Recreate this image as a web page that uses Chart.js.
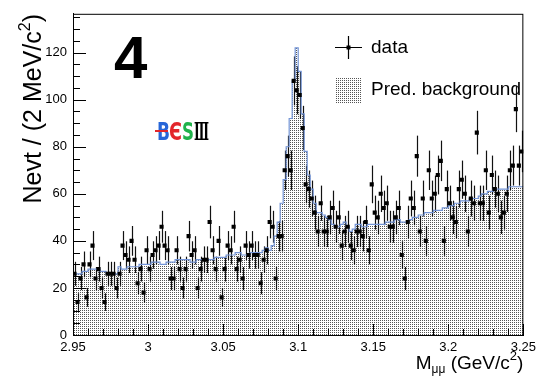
<!DOCTYPE html>
<html><head><meta charset="utf-8">
<script src="https://cdn.jsdelivr.net/npm/chart.js@4/dist/chart.umd.min.js"></script>
<style>html,body{margin:0;padding:0;background:#fff;}#wrap{width:541px;height:376px;position:relative}</style>
</head><body><div id="wrap"><canvas id="c" width="541" height="376"></canvas></div>
<script>
// ---- data (2 MeV bins from 2.95 to 3.25 GeV) ----
const xMin = 2.95, xMax = 3.25, binWidth = 0.002;
const dataCounts = [26,14,24,30,16,30,38,24,28,20, 14,26,26,26,20,26,38,34,32,40, 32,22,28,18,36,28,34,36,38,46,
  38,36,24,24,36,28,20,28,42,34, 36,20,28,32,32,48,36,28,40,16, 28,38,36,46,28,32,24,38,34,38,
  34,34,22,32,36,48,46,24,42,42, 70,76,70,108,104,102,88,64,62,58, 52,44,56,44,44,50,54,46,50,38,
  44,46,38,36,44,44,42,48,36,64, 52,50,60,54,56,46,46,50,54,34, 24,48,58,54,76,44,58,40,70,58,
  60,68,74,40,62,56,50,48,62,66, 60,44,58,56,86,56,56,70,52,68, 62,60,50,52,60,70,72,96,72,78];
const bkgCounts = [26,26,26,27,27,28,28,28,28,27, 27,26,26,26,26,29,28,28,29,29, 29,29,30,30,30,30,31,31,31,30,
  30,31,31,31,32,32,32,32,32,31, 31,32,32,32,32,32,32,33,33,33, 33,34,34,34,35,35,34,34,34,35,
  35,35,35,36,37,36,38,42,48,56, 66,80,92,108,122,112,94,78,68,62, 56,52,52,51,50,49,47,46,46,47,
  48,46,44,45,47,47,46,46,47,47, 47,47,47,47,48,48,48,49,49,48, 48,48,49,50,50,51,51,52,52,52,
  53,53,53,54,54,55,55,56,56,57, 57,57,58,58,58,59,60,60,61,61, 62,62,62,62,62,63,63,63,63,63];
const xTickValues = [2.95, 3.0, 3.05, 3.1, 3.15, 3.2, 3.25];
const xTickLabels = ['2.95', '3', '3.05', '3.1', '3.15', '3.2', '3.25'];
const yTickValues = [0, 20, 40, 60, 80, 100, 120];
const yTickLabels = ['0', '20', '40', '60', '80', '100', '120'];
const yMax = 136.5;

const binLow = dataCounts.map((_, i) => +(xMin + i * binWidth).toFixed(4));
const binCenter = binLow.map(v => +(v + binWidth / 2).toFixed(4));

const dataPts = dataCounts.map((v, i) => ({x: binCenter[i], y: v}));
const bkgPts = bkgCounts.map((v, i) => ({x: binLow[i], y: v}));
bkgPts.push({x: xMax, y: bkgCounts[bkgCounts.length - 1]});

// dotted fill pattern
function makePattern() {
  const p = document.createElement('canvas');
  p.width = 2; p.height = 2;
  const g = p.getContext('2d');
  g.fillStyle = '#ffffff'; g.fillRect(0, 0, 2, 2);
  g.fillStyle = '#555555'; g.fillRect(0, 0, 1, 1);
  return g.createPattern(p, 'repeat');
}
const ctx0 = document.getElementById('c').getContext('2d');
const pattern = makePattern();

const FONT = '"Liberation Sans", Arial, Helvetica, sans-serif';

function richWidth(ctx, parts) {
  let w = 0;
  parts.forEach(p => { ctx.font = p.font; w += ctx.measureText(p.t).width; });
  return w;
}
function drawRich(ctx, parts, x, y) {
  parts.forEach(p => {
    ctx.font = p.font;
    ctx.fillText(p.t, x, y + (p.dy || 0));
    x += ctx.measureText(p.t).width;
  });
}

const errorBars = {
  id: 'errorBars',
  beforeDatasetDraw(chart, args) {
    if (args.index !== 1) return;
    const c = chart.ctx, xs = chart.scales.x, ys = chart.scales.y;
    c.save();
    c.strokeStyle = '#111'; c.lineWidth = 1.2;
    dataPts.forEach(p => {
      const e = Math.sqrt(p.y);
      const px = Math.round(xs.getPixelForValue(p.x)) + 0.5;
      c.beginPath();
      c.moveTo(px, ys.getPixelForValue(p.y - e));
      c.lineTo(px, ys.getPixelForValue(p.y + e));
      c.stroke();
    });
    c.restore();
  }
};

const decor = {
  id: 'decor',
  afterDraw(chart) {
    const c = chart.ctx, a = chart.chartArea, xs = chart.scales.x, ys = chart.scales.y;
    c.save();
    // frame
    c.strokeStyle = '#000'; c.lineWidth = 1;
    c.strokeRect(a.left + 0.5, a.top + 0.5, a.right - a.left - 1, a.bottom - a.top);
    // x ticks (inside)
    c.beginPath();
    for (let i = 0; i <= 30; i++) {
      const v = xMin + i * 0.01;
      const px = Math.round(xs.getPixelForValue(v)) + 0.5;
      const len = (i % 5 === 0) ? 11 : 6;
      c.moveTo(px, a.bottom); c.lineTo(px, a.bottom - len);
    }
    // y ticks (inside)
    for (let v = 0; v <= yMax; v += 5) {
      const py = Math.round(ys.getPixelForValue(v)) + 0.5;
      const len = (v % 20 === 0) ? 13 : 7;
      c.moveTo(a.left, py); c.lineTo(a.left + len, py);
    }
    c.stroke();

    c.fillStyle = '#000';
    c.textBaseline = 'alphabetic';
    // big "4"
    c.font = 'bold 60px ' + FONT;
    c.textAlign = 'left';
    c.fillText('4', 114, 78);

    // BESIII logo
    c.font = 'bold 25px "DejaVu Sans", sans-serif';
    c.fillStyle = '#2766d8'; c.fillText('B', 157, 140, 13);
    c.fillStyle = '#e3262b'; c.fillText('Є', 169, 140, 13);
    c.fillStyle = '#21b24b'; c.fillText('S', 182, 140, 12);
    c.fillStyle = '#000'; c.font = 'bold 25px "DejaVu Serif", serif';
    c.fillText('Ⅲ', 194, 140, 15);
    c.strokeStyle = '#e3262b'; c.lineWidth = 2;
    c.beginPath(); c.moveTo(155, 131); c.lineTo(168, 131); c.stroke();

    // legend
    c.strokeStyle = '#000'; c.lineWidth = 1.2;
    c.beginPath();
    c.moveTo(335, 47.5); c.lineTo(362, 47.5);
    c.moveTo(348.5, 36); c.lineTo(348.5, 59);
    c.stroke();
    c.fillStyle = '#000'; c.fillRect(346.5, 45.5, 4, 4);
    c.fillStyle = pattern; c.fillRect(335, 77, 27, 26);
    c.fillStyle = '#000';
    c.font = '19px ' + FONT;
    c.textBaseline = 'middle';
    c.fillText('data', 371, 48);
    c.fillText('Pred. background', 371, 90);

    // x title (right aligned)
    c.textBaseline = 'alphabetic';
    const xt = [
      {t: 'M', font: '19px ' + FONT},
      {t: 'μμ', font: '12px ' + FONT, dy: 4},
      {t: ' (GeV/c', font: '19px ' + FONT},
      {t: '2', font: '13px ' + FONT, dy: -9},
      {t: ')', font: '19px ' + FONT}
    ];
    const xw = richWidth(c, xt);
    drawRich(c, xt, a.right - xw, 369);

    // y title (rotated, right aligned at top)
    const yt = [
      {t: 'Nevt / (2 MeV/c', font: '25px ' + FONT},
      {t: '2', font: '16px ' + FONT, dy: -11},
      {t: ')', font: '25px ' + FONT}
    ];
    const yw = richWidth(c, yt);
    c.translate(41, 14);
    c.rotate(-Math.PI / 2);
    drawRich(c, yt, -yw, 0);
    c.restore();
  }
};

new Chart(document.getElementById('c'), {
  data: {
    datasets: [
      {
        type: 'scatter', label: 'data', data: dataPts, order: 1,
        pointStyle: 'rect', pointRadius: 2.9, pointBackgroundColor: '#000',
        pointBorderWidth: 0, showLine: false
      },
      {
        type: 'line', label: 'Pred. background', data: bkgPts, order: 2,
        stepped: 'before', fill: 'origin', backgroundColor: pattern,
        borderColor: '#7394d6', borderWidth: 1.2, pointRadius: 0, tension: 0
      }
    ]
  },
  options: {
    responsive: false, animation: false, devicePixelRatio: 1,
    layout: {padding: {top: 9, right: 14, left: 0, bottom: 0}},
    plugins: {legend: {display: false}, tooltip: {enabled: false}},
    scales: {
      x: {
        type: 'linear', min: xMin, max: xMax,
        afterBuildTicks: s => { s.ticks = xTickValues.map(v => ({value: v})); },
        afterFit: s => { s.height = 41; },
        grid: {display: false, drawTicks: false},
        border: {display: true, color: '#000', width: 1},
        ticks: {
          padding: 5, color: '#000', font: {family: FONT, size: 13},
          maxRotation: 0, autoSkip: false,
          callback: (v, i) => xTickLabels[i]
        }
      },
      y: {
        type: 'linear', min: 0, max: yMax,
        afterBuildTicks: s => { s.ticks = yTickValues.map(v => ({value: v})); },
        afterFit: s => { s.width = 73; },
        grid: {display: false, drawTicks: false},
        border: {display: true, color: '#000', width: 1},
        ticks: {
          padding: 6, color: '#000', font: {family: FONT, size: 13},
          autoSkip: false,
          callback: (v, i) => yTickLabels[i]
        }
      }
    }
  },
  plugins: [errorBars, decor]
});
</script></body></html>
